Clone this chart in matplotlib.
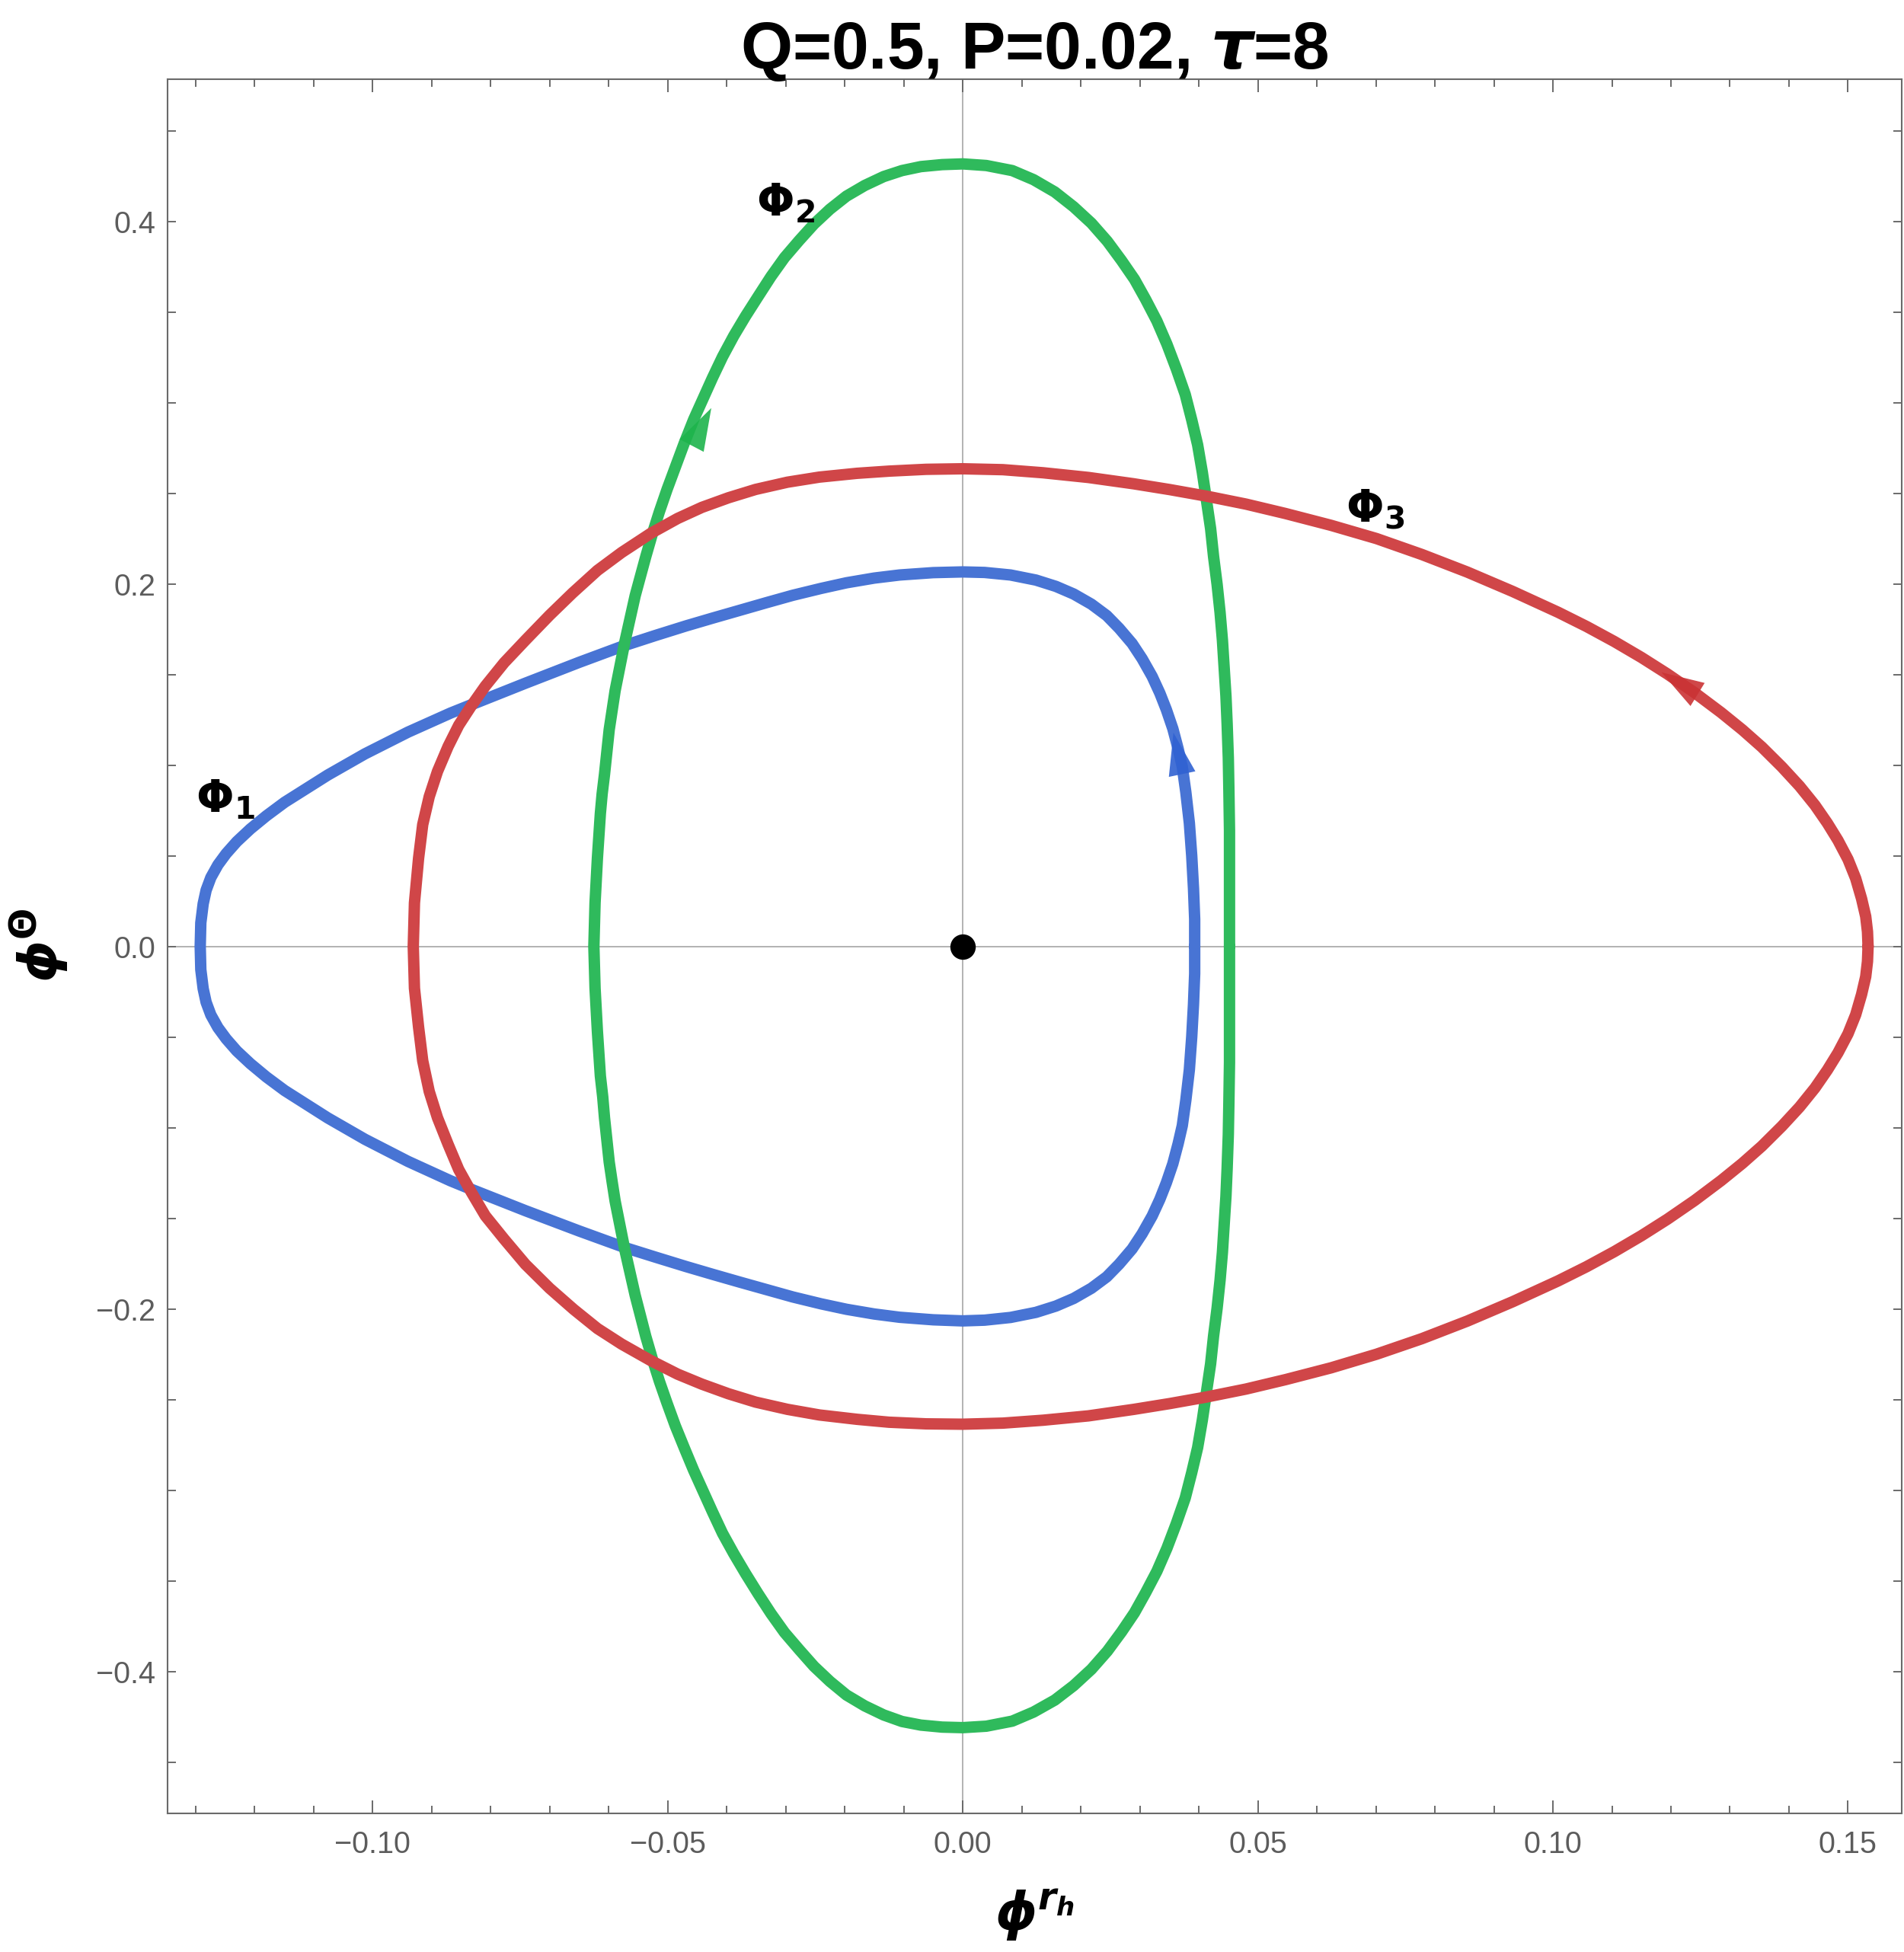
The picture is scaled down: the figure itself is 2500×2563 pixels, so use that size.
import numpy as np
import matplotlib
matplotlib.use("Agg")
import matplotlib.pyplot as plt
from matplotlib.ticker import MultipleLocator

# closed curves (phi^rh, phi^Theta), counter-clockwise from the right-hand crossing of y=0
phi1_x = [0.0393, 0.0393, 0.0391, 0.0388, 0.0384, 0.0378, 0.0372, 0.0365, 0.0356, 0.0345, 0.0334, 0.0321, 0.0304,
          0.0287, 0.0265, 0.0244, 0.0218, 0.0188, 0.0158, 0.0124, 0.0081, 0.0037, 0.0,
          -0.0050, -0.0107, -0.0150, -0.0197, -0.0240, -0.0288, -0.0333, -0.0379, -0.0424, -0.0469, -0.0521, -0.0573,
          -0.0650, -0.0741, -0.0832, -0.0868, -0.0940, -0.1013, -0.1076, -0.1149, -0.1180, -0.1207, -0.1230, -0.1248,
          -0.1262, -0.1274, -0.1282, -0.1287, -0.1291, -0.1292,
          -0.1291, -0.1287, -0.1282, -0.1274, -0.1262, -0.1248, -0.1230, -0.1207, -0.1180, -0.1149, -0.1076, -0.1013,
          -0.0940, -0.0868, -0.0832, -0.0741, -0.0650, -0.0573, -0.0521, -0.0469, -0.0424, -0.0379, -0.0333, -0.0288,
          -0.0240, -0.0197, -0.0150, -0.0107, -0.0050, 0.0,
          0.0037, 0.0081, 0.0124, 0.0158, 0.0188, 0.0218, 0.0244, 0.0265, 0.0287, 0.0304, 0.0321, 0.0334, 0.0345,
          0.0356, 0.0365, 0.0372, 0.0378, 0.0384, 0.0388, 0.0391, 0.0393, 0.0393]
phi1_y = [0.0, 0.0150, 0.0320, 0.0500, 0.0680, 0.0851, 0.0991, 0.1090, 0.1201, 0.1306, 0.1397, 0.1489, 0.1587,
          0.1671, 0.1755, 0.1825, 0.1888, 0.1944, 0.1986, 0.2021, 0.2049, 0.2063, 0.2066,
          0.2062, 0.2049, 0.2032, 0.2006, 0.1975, 0.1937, 0.1896, 0.1853, 0.1811, 0.1768, 0.1715, 0.1660,
          0.1567, 0.1452, 0.1334, 0.1287, 0.1182, 0.1062, 0.0945, 0.0795, 0.0720, 0.0648, 0.0578, 0.0512,
          0.0450, 0.0380, 0.0310, 0.0235, 0.0130, 0.0,
          -0.0128, -0.0233, -0.0308, -0.0378, -0.0448, -0.0510, -0.0577, -0.0647, -0.0720, -0.0795, -0.0946, -0.1064,
          -0.1186, -0.1293, -0.1341, -0.1458, -0.1570, -0.1661, -0.1714, -0.1766, -0.1809, -0.1851, -0.1893, -0.1934,
          -0.1972, -0.2002, -0.2028, -0.2046, -0.2060, -0.2066,
          -0.2062, -0.2047, -0.2019, -0.1984, -0.1942, -0.1886, -0.1823, -0.1753, -0.1669, -0.1585, -0.1487, -0.1395,
          -0.1304, -0.1199, -0.1088, -0.0989, -0.0849, -0.0680, -0.0500, -0.0320, -0.0150, 0.0]

phi2_x = [0.0452, 0.0452, 0.0452, 0.0452, 0.0451, 0.0450, 0.0448, 0.0446, 0.0443, 0.0440, 0.0436, 0.0431, 0.0425,
          0.0420, 0.0413, 0.0406, 0.0398, 0.0388, 0.0377, 0.0362, 0.0346, 0.0329, 0.0310, 0.0291, 0.0269, 0.0245,
          0.0218, 0.0188, 0.0156, 0.0120, 0.0084, 0.0040, 0.0,
          -0.0035, -0.0071, -0.0103, -0.0134, -0.0166, -0.0197, -0.0225, -0.0252, -0.0277, -0.0302, -0.0325, -0.0347,
          -0.0368, -0.0388, -0.0407, -0.0424, -0.0440, -0.0456, -0.0472, -0.0487, -0.0501, -0.0514, -0.0526, -0.0537,
          -0.0546, -0.0555, -0.0564, -0.0573, -0.0581, -0.0589, -0.0594, -0.0599, -0.0603, -0.0607, -0.0611, -0.0614,
          -0.0619, -0.0623, -0.0625,
          -0.0623, -0.0619, -0.0614, -0.0610, -0.0607, -0.0603, -0.0599, -0.0594, -0.0589, -0.0581, -0.0573, -0.0564,
          -0.0555, -0.0546, -0.0537, -0.0526, -0.0514, -0.0501, -0.0487, -0.0472, -0.0456, -0.0440, -0.0424, -0.0407,
          -0.0388, -0.0368, -0.0347, -0.0325, -0.0302, -0.0277, -0.0252, -0.0225, -0.0197, -0.0166, -0.0134, -0.0103,
          -0.0071, -0.0035, 0.0,
          0.0040, 0.0084, 0.0120, 0.0156, 0.0188, 0.0218, 0.0245, 0.0269, 0.0291, 0.0310, 0.0329, 0.0346, 0.0362,
          0.0377, 0.0388, 0.0398, 0.0406, 0.0413, 0.0420, 0.0425, 0.0431, 0.0436, 0.0440, 0.0443, 0.0446, 0.0448,
          0.0450, 0.0451, 0.0452, 0.0452, 0.0452, 0.0452]
phi2_y = [0.0, 0.0210, 0.0425, 0.0640, 0.0857, 0.1040, 0.1227, 0.1380, 0.1535, 0.1690, 0.1843, 0.1997, 0.2151,
          0.2305, 0.2459, 0.2615, 0.2767, 0.2905, 0.3045, 0.3185, 0.3322, 0.3450, 0.3569, 0.3680, 0.3784, 0.3890,
          0.3990, 0.4080, 0.4162, 0.4230, 0.4280, 0.4308, 0.4317,
          0.4313, 0.4302, 0.4280, 0.4247, 0.4198, 0.4139, 0.4067, 0.3985, 0.3895, 0.3800, 0.3695, 0.3584,
          0.3477, 0.3368, 0.3253, 0.3137, 0.3022, 0.2906, 0.2775, 0.2644, 0.2521, 0.2398, 0.2275, 0.2151,
          0.2043, 0.1935, 0.1804, 0.1673, 0.1542, 0.1411, 0.1303, 0.1196, 0.1073, 0.0949, 0.0841, 0.0733,
          0.0487, 0.0240, 0.0,
          -0.0230, -0.0470, -0.0715, -0.0830, -0.0945, -0.1068, -0.1190, -0.1300, -0.1405, -0.1536, -0.1667, -0.1795,
          -0.1925, -0.2038, -0.2152, -0.2275, -0.2399, -0.2520, -0.2645, -0.2765, -0.2890, -0.3005, -0.3120, -0.3238,
          -0.3350, -0.3460, -0.3570, -0.3680, -0.3785, -0.3880, -0.3972, -0.4055, -0.4130, -0.4190, -0.4240, -0.4276,
          -0.4296, -0.4307, -0.4310,
          -0.4302, -0.4274, -0.4224, -0.4158, -0.4078, -0.3988, -0.3888, -0.3782, -0.3676, -0.3565, -0.3447, -0.3320,
          -0.3183, -0.3043, -0.2903, -0.2765, -0.2613, -0.2457, -0.2303, -0.2150, -0.1996, -0.1842, -0.1688, -0.1533,
          -0.1378, -0.1225, -0.1038, -0.0855, -0.0640, -0.0425, -0.0210, 0.0]

phi3_x = [0.1534, 0.1533, 0.1530, 0.1523, 0.1513, 0.1500, 0.1483, 0.1465, 0.1444, 0.1418, 0.1388, 0.1354, 0.1321,
          0.1285, 0.1240, 0.1194, 0.1150, 0.1104, 0.1057, 0.1009, 0.0932, 0.0855, 0.0778, 0.0701, 0.0624, 0.0547,
          0.0480, 0.0413, 0.0351, 0.0290, 0.0213, 0.0136, 0.0068, 0.0,
          -0.0062, -0.0125, -0.0179, -0.0243, -0.0297, -0.0351, -0.0397, -0.0442, -0.0483, -0.0528, -0.0578, -0.0619,
          -0.0661, -0.0700, -0.0741, -0.0777, -0.0809, -0.0833, -0.0854, -0.0872, -0.0890, -0.0904, -0.0915, -0.0922,
          -0.0929, -0.0931,
          -0.0929, -0.0922, -0.0915, -0.0904, -0.0890, -0.0872, -0.0854, -0.0833, -0.0809, -0.0777, -0.0741, -0.0700,
          -0.0659, -0.0619, -0.0578, -0.0528, -0.0483, -0.0442, -0.0397, -0.0351, -0.0297, -0.0243, -0.0179, -0.0125,
          -0.0062, 0.0,
          0.0068, 0.0136, 0.0213, 0.0290, 0.0351, 0.0413, 0.0480, 0.0547, 0.0624, 0.0701, 0.0778, 0.0855, 0.0932,
          0.1009, 0.1057, 0.1104, 0.1150, 0.1194, 0.1240, 0.1285, 0.1321, 0.1354, 0.1388, 0.1418, 0.1444, 0.1465,
          0.1483, 0.1500, 0.1513, 0.1523, 0.1530, 0.1533, 0.1534]
phi3_y = [0.0, 0.0081, 0.0165, 0.0263, 0.0375, 0.0480, 0.0585, 0.0680, 0.0779, 0.0884, 0.0990, 0.1100, 0.1195,
          0.1290, 0.1400, 0.1503, 0.1594, 0.1682, 0.1765, 0.1843, 0.1958, 0.2065, 0.2162, 0.2250, 0.2323, 0.2388,
          0.2440, 0.2484, 0.2520, 0.2552, 0.2587, 0.2613, 0.2630, 0.2635,
          0.2632, 0.2622, 0.2610, 0.2589, 0.2561, 0.2521, 0.2475, 0.2422, 0.2361, 0.2280, 0.2173, 0.2074,
          0.1950, 0.1827, 0.1689, 0.1565, 0.1436, 0.1325, 0.1220, 0.1103, 0.0965, 0.0826, 0.0672, 0.0487,
          0.0240, 0.0,
          -0.0231, -0.0446, -0.0631, -0.0800, -0.0945, -0.1092, -0.1231, -0.1354, -0.1486, -0.1615, -0.1754, -0.1886,
          -0.2003, -0.2108, -0.2194, -0.2286, -0.2360, -0.2415, -0.2468, -0.2514, -0.2554, -0.2585, -0.2609, -0.2625,
          -0.2634, -0.2636,
          -0.2630, -0.2614, -0.2590, -0.2554, -0.2522, -0.2486, -0.2442, -0.2390, -0.2325, -0.2250, -0.2164, -0.2067,
          -0.1960, -0.1845, -0.1767, -0.1684, -0.1596, -0.1505, -0.1402, -0.1292, -0.1197, -0.1102, -0.0992, -0.0886,
          -0.0781, -0.0682, -0.0587, -0.0482, -0.0377, -0.0265, -0.0167, -0.0083, 0.0]

# arrowheads: tail point and tip point on each curve
arrow_base = [(0.0372, 0.0946), (-0.0455, 0.2790), (0.1240, 0.1400)]
arrow_tip = [(0.0357, 0.1179), (-0.0426, 0.2970), (0.1184, 0.1512)]

labels = [r'$\mathbf{\Phi_1}$', r'$\mathbf{\Phi_2}$', r'$\mathbf{\Phi_3}$']
label_x = [-0.1249, -0.0300, 0.0699]
label_y = [0.0809, 0.4099, 0.2414]

colors = ["#4874D4", "#2FBA5C", "#D04648"]
head_colors = ["#3062D2", "#1EB44C", "#CA3335"]

plt.rcParams['mathtext.fontset'] = 'custom'
plt.rcParams['mathtext.rm'] = 'DejaVu Sans'
plt.rcParams['mathtext.it'] = 'DejaVu Sans:italic'
plt.rcParams['mathtext.bf'] = 'DejaVu Sans:bold'
plt.rcParams['mathtext.bfit'] = 'DejaVu Sans:italic:bold'

fig = plt.figure(figsize=(25, 25.63), dpi=100)
ax = fig.add_axes([0.0878, 0.0712, 0.9110, 0.8883])

ax.axhline(0, color="#a6a6a6", lw=1.2, zorder=1)
ax.axvline(0, color="#a6a6a6", lw=1.2, zorder=1)

for xs, ys, c in zip([phi1_x, phi2_x, phi3_x], [phi1_y, phi2_y, phi3_y], colors):
    ax.plot(xs, ys, color=c, lw=10.8, solid_joinstyle='round', solid_capstyle='round', zorder=2)

for b, t, c in zip(arrow_base, arrow_tip, head_colors):
    ax.annotate('', xy=t, xytext=b,
                arrowprops=dict(arrowstyle='-|>,head_length=1.0,head_width=0.32', mutation_scale=40,
                                color=c, lw=0, shrinkA=0, shrinkB=0, alpha=0.9), zorder=3)

ax.plot([0], [0], 'o', color='black', ms=23, zorder=4)

for s, lx, ly in zip(labels, label_x, label_y):
    ax.text(lx, ly, s, fontsize=42, ha='center', va='center', zorder=5)

ax.set_xlim(-0.1348, 0.1591)
ax.set_ylim(-0.4781, 0.4785)

ax.xaxis.set_major_locator(MultipleLocator(0.05))
ax.xaxis.set_minor_locator(MultipleLocator(0.01))
ax.yaxis.set_major_locator(MultipleLocator(0.2))
ax.yaxis.set_minor_locator(MultipleLocator(0.05))

tick_col = "#6a6a6a"
ax.tick_params(axis='x', which='major', direction='in', length=12, width=1.4, color=tick_col,
               top=True, bottom=True, labelsize=28.5, labelcolor="#5c5c5c", pad=16)
ax.tick_params(axis='x', which='minor', direction='in', length=7.5, width=1.4, color=tick_col, top=True, bottom=True)
ax.tick_params(axis='y', which='major', direction='in', length=8, width=1.4, color=tick_col,
               left=True, right=True, labelsize=28.5, labelcolor="#5c5c5c", pad=11)
ax.tick_params(axis='y', which='minor', direction='in', length=8, width=1.4, color=tick_col, left=True, right=True)
for lab in ax.get_xticklabels() + ax.get_yticklabels():
    lab.set_fontfamily('Liberation Sans')
for sp in ax.spines.values():
    sp.set_color(tick_col)
    sp.set_linewidth(1.5)

fig.text(0.5433, 1 - 90 / 2563, r'Q=0.5, P=0.02, $\mathbfit{\tau}$=8', fontsize=63, fontweight='bold',
         family='Liberation Sans', ha='center', va='baseline')
fig.text(0.5435, 0.0187, r'$\mathbfit{\phi}^{\mathbfit{r}_{\mathbfit{h}}}$', fontsize=50, ha='center', va='center')
fig.text(0.0204, 0.5154, r'$\mathbfit{\phi}^{\mathbf{\Theta}}$', fontsize=50, rotation=90, ha='center', va='center')

fig.savefig("out.png", dpi=100)
